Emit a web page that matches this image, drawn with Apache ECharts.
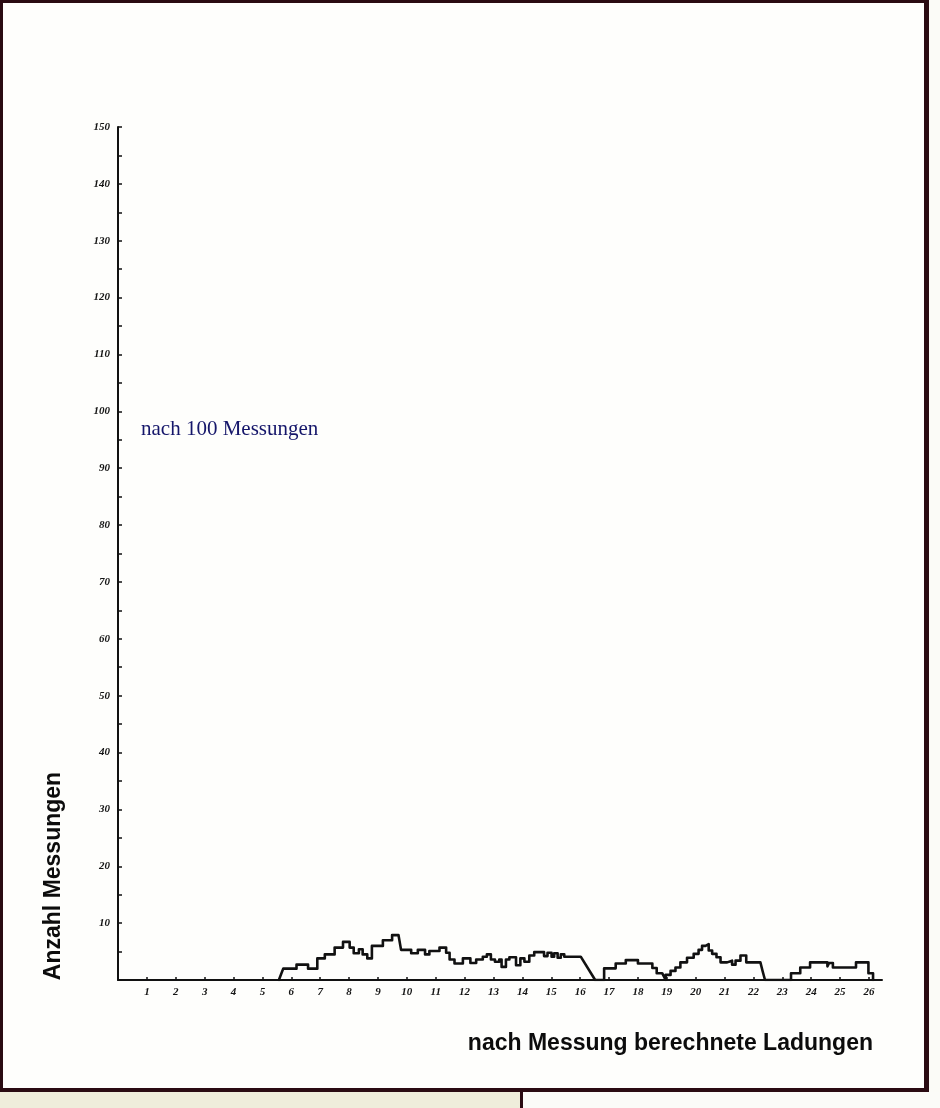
<!DOCTYPE html>
<html>
<head>
<meta charset="UTF-8">
<title>nach 100 Messungen</title>
<script src="https://cdn.jsdelivr.net/npm/echarts@6/dist/echarts.min.js"></script>
<style>
  * { margin: 0; padding: 0; box-sizing: border-box; }
  body { width: 940px; height: 1108px; background: #fbfbf7; overflow: hidden; }
  #chart { width: 940px; height: 1108px; }
</style>
</head>
<body>
<div id="chart"></div>
<script>
// Eckpunkte des Treppenzugs: x = berechnete Ladung, y = Anzahl Messungen
const curveX = [
  5.57, 5.72, 6.18, 6.18, 6.58, 6.58, 6.90, 6.90, 7.16, 7.16,
  7.50, 7.50, 7.79, 7.79, 8.02, 8.02, 8.16, 8.16, 8.34, 8.34,
  8.47, 8.47, 8.63, 8.63, 8.79, 8.79, 9.17, 9.17, 9.49, 9.49,
  9.71, 9.80, 10.15, 10.15, 10.38, 10.38, 10.63, 10.63, 10.78, 10.78,
  11.13, 11.13, 11.36, 11.36, 11.48, 11.48, 11.65, 11.65, 11.94, 11.94,
  12.20, 12.20, 12.40, 12.40, 12.63, 12.63, 12.77, 12.77, 12.91, 12.91,
  13.05, 13.05, 13.20, 13.20, 13.28, 13.28, 13.43, 13.43, 13.55, 13.55,
  13.78, 13.78, 13.93, 13.93, 14.07, 14.07, 14.24, 14.24, 14.41, 14.41,
  14.75, 14.75, 14.87, 14.87, 15.01, 15.01, 15.10, 15.10, 15.22, 15.22,
  15.33, 15.33, 15.45, 15.45, 16.02, 16.52,
  16.83, 16.83, 17.23, 17.23, 17.58, 17.58, 18.00, 18.00, 18.50, 18.50,
  18.65, 18.65, 18.84, 18.96,
  18.96, 19.13, 19.13, 19.30, 19.30, 19.47, 19.47, 19.70, 19.70, 19.93,
  19.93, 20.10, 20.10, 20.22, 20.22, 20.34, 20.34, 20.45, 20.45, 20.57,
  20.57, 20.72, 20.72, 20.86, 20.86, 21.09, 21.09, 21.26, 21.26, 21.38,
  21.38, 21.55, 21.55, 21.75, 21.75, 22.24, 22.32, 22.40,
  23.30, 23.30, 23.62, 23.62, 23.96, 23.96, 24.56, 24.56, 24.62, 24.62,
  24.75, 24.75, 25.55, 25.55, 25.98, 25.98, 26.14, 26.14
]
const curveY = [
  0, 2.0, 2.0, 2.7, 2.7, 2.0, 2.0, 3.8, 3.8, 4.5,
  4.5, 5.7, 5.7, 6.7, 6.7, 5.7, 5.7, 4.7, 4.7, 5.4,
  5.4, 4.5, 4.5, 3.8, 3.8, 6.0, 6.0, 7.0, 7.0, 7.9,
  7.9, 5.3, 5.3, 4.7, 4.7, 5.3, 5.3, 4.5, 4.5, 5.1,
  5.1, 5.7, 5.7, 4.8, 4.8, 3.6, 3.6, 2.9, 2.9, 3.8,
  3.8, 3.0, 3.0, 3.6, 3.6, 4.1, 4.1, 4.5, 4.5, 3.6,
  3.6, 3.2, 3.2, 3.6, 3.6, 2.3, 2.3, 3.6, 3.6, 4.0,
  4.0, 2.6, 2.6, 3.8, 3.8, 3.2, 3.2, 4.3, 4.3, 4.9,
  4.9, 4.2, 4.2, 4.8, 4.8, 4.1, 4.1, 4.7, 4.7, 3.9,
  3.9, 4.5, 4.5, 4.1, 4.1, 0,
  0, 2.05, 2.05, 2.9, 2.9, 3.5, 3.5, 2.9, 2.9, 2.1,
  2.1, 1.2, 1.2, 0,
  0.9, 0.9, 1.6, 1.6, 2.2, 2.2, 3.1, 3.1, 3.9, 3.9,
  4.6, 4.6, 5.3, 5.3, 6.0, 6.0, 6.3, 6.3, 5.2, 5.2,
  4.6, 4.6, 4.0, 4.0, 3.1, 3.1, 3.4, 3.4, 2.7, 2.7,
  3.4, 3.4, 4.3, 4.3, 3.1, 3.1, 1.5, 0,
  0, 1.2, 1.2, 2.2, 2.2, 3.1, 3.1, 2.4, 2.4, 3.0,
  3.0, 2.2, 2.2, 3.1, 3.1, 1.2, 1.2, 0
]

const xMax = 26.45
const yMax = 150

const titleText = 'nach 100 Messungen'
const xName = 'nach Messung berechnete Ladungen'
const yName = 'Anzahl Messungen'

const frameColor = '#2a0b12'
const nameFont = '"Liberation Sans", Arial, sans-serif'
const tickFont = '"Liberation Serif", "Times New Roman", serif'

const chart = echarts.init(document.getElementById('chart'))

chart.setOption({
  animation: false,
  backgroundColor: '#fefefc',
  title: {
    text: titleText,
    left: 141,
    top: 419,
    padding: 0,
    textStyle: {
      fontFamily: tickFont,
      fontWeight: 'normal',
      fontSize: 21,
      color: '#15166a'
    }
  },
  grid: {
    left: 118,
    right: 940 - 882,
    top: 127,
    bottom: 1108 - 980,
    containLabel: false,
    outerBoundsMode: 'none'
  },
  xAxis: {
    type: 'value',
    min: 0,
    max: xMax,
    interval: 1,
    splitLine: { show: false },
    axisLine: { show: true, onZero: false, lineStyle: { color: '#111', width: 2 } },
    axisTick: { show: true, inside: true, length: 3, lineStyle: { color: '#111', width: 1.5 } },
    axisLabel: {
      margin: 7,
      fontFamily: tickFont,
      fontStyle: 'italic',
      fontWeight: 'bold',
      fontSize: 11,
      color: '#151515',
      showMaxLabel: false,
      formatter: v => (Number.isInteger(v) && v >= 1 && v <= 26) ? String(v) : ''
    }
  },
  yAxis: {
    type: 'value',
    min: 0,
    max: yMax,
    interval: 10,
    splitLine: { show: false },
    axisLine: { show: true, onZero: false, lineStyle: { color: '#111', width: 2 } },
    axisTick: { show: true, inside: true, length: 4, lineStyle: { color: '#111', width: 1.5 } },
    minorTick: { show: true, splitNumber: 2, length: 4, lineStyle: { color: '#111', width: 1.5 } },
    axisLabel: {
      margin: 8,
      fontFamily: tickFont,
      fontStyle: 'italic',
      fontWeight: 'bold',
      fontSize: 11,
      color: '#151515',
      formatter: v => v === 0 ? '' : String(v)
    }
  },
  series: [{
    type: 'line',
    silent: true,
    showSymbol: false,
    symbol: 'none',
    data: curveX.map((x, i) => [x, curveY[i]]),
    lineStyle: { color: '#111', width: 2.6, join: 'round', cap: 'round' },
    z: 3
  }],
  graphic: [
    // Achsentitel
    {
      type: 'text',
      x: 873,
      y: 1044,
      style: {
        text: xName,
        font: 'bold 23px ' + nameFont,
        fill: '#0c0c0c',
        align: 'right',
        verticalAlign: 'middle'
      }
    },
    {
      type: 'text',
      x: 54,
      y: 876,
      rotation: Math.PI / 2,
      style: {
        text: yName,
        font: 'bold 23px ' + nameFont,
        fill: '#0c0c0c',
        align: 'center',
        verticalAlign: 'middle'
      }
    },
    // Rahmen
    { type: 'rect', shape: { x: 0, y: 0, width: 929, height: 3 }, style: { fill: frameColor } },
    { type: 'rect', shape: { x: 0, y: 0, width: 3, height: 1092 }, style: { fill: frameColor } },
    { type: 'rect', shape: { x: 924, y: 0, width: 5, height: 1092 }, style: { fill: frameColor } },
    { type: 'rect', shape: { x: 0, y: 1088, width: 929, height: 4 }, style: { fill: frameColor } },
    { type: 'rect', shape: { x: 929, y: 0, width: 11, height: 1108 }, style: { fill: '#fbfbf7' } },
    { type: 'rect', shape: { x: 0, y: 1092, width: 520, height: 16 }, style: { fill: '#efeddb' } },
    { type: 'rect', shape: { x: 523, y: 1092, width: 417, height: 16 }, style: { fill: '#fbfbf8' } },
    { type: 'rect', shape: { x: 520, y: 1090, width: 3, height: 18 }, style: { fill: frameColor } }
  ]
})
</script>
</body>
</html>
